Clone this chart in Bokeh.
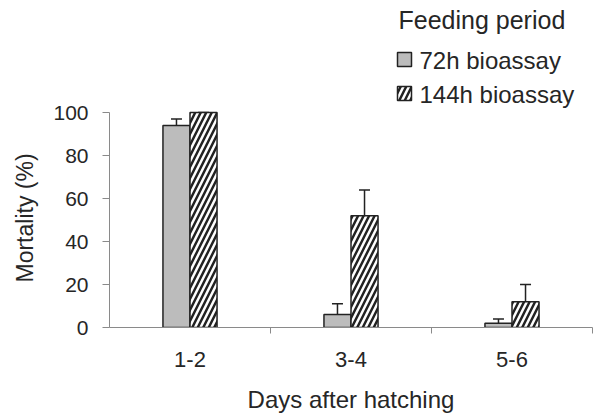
from bokeh.plotting import figure
from bokeh.models import (ColumnDataSource, Range1d, FixedTicker, Whisker, TeeHead,
                          Title, Label, BoxAnnotation)
from bokeh.transform import dodge
from bokeh.embed import file_html
from bokeh.resources import INLINE

categories = ["1-2", "3-4", "5-6"]
mort_72h = [94, 6, 2]
err_72h = [3, 5, 2]
mort_144h = [100, 52, 12]
err_144h = [0, 12, 8]
y_ticks = [0, 20, 40, 60, 80, 100]
series_names = ["72h bioassay", "144h bioassay"]
legend_title = "Feeding period"

FONT = "Liberation Sans"
TXT = "#262626"
AX = "#8a8a8a"
EDGE = "#222222"
GREY = "#bcbcbc"
BW = 0.168
Y_END = 151.2

xc = [i + 0.5 for i in range(len(categories))]
src72 = ColumnDataSource(dict(x=xc, top=mort_72h,
                              upper=[m + e for m, e in zip(mort_72h, err_72h)]))
src144 = ColumnDataSource(dict(x=xc, top=mort_144h,
                               upper=[m + e for m, e in zip(mort_144h, err_144h)]))

p = figure(width=594, height=417, output_backend="svg", toolbar_location=None,
           x_range=Range1d(0, len(categories)), y_range=Range1d(0, Y_END),
           min_border_left=109, min_border_right=2, min_border_bottom=90,
           min_border_top=2)
p.outline_line_color = None
p.grid.visible = False
p.background_fill_color = "white"

style72 = dict(fill_color=GREY, line_color=EDGE, line_width=1.5)
style144 = dict(fill_color="white", line_color=EDGE, line_width=1.5,
                hatch_pattern="/", hatch_color=EDGE, hatch_weight=2.5, hatch_scale=11)

p.vbar(x=dodge("x", -BW / 2, range=p.x_range), top="top", bottom=0, width=BW,
       source=src72, **style72)
p.vbar(x=dodge("x", BW / 2, range=p.x_range), top="top", bottom=0, width=BW,
       source=src144, **style144)

for src, off in ((src72, -BW / 2), (src144, BW / 2)):
    w = Whisker(source=src, base=dodge("x", off, range=p.x_range), upper="upper",
                lower="top", dimension="height",
                upper_head=TeeHead(size=11, line_color=EDGE, line_width=1.5),
                lower_head=None, line_color=EDGE, line_width=1.5)
    p.add_layout(w)

# axes
p.yaxis.ticker = FixedTicker(ticks=y_ticks)
p.yaxis.bounds = (0, 100)
p.yaxis.axis_line_color = AX
p.yaxis.major_tick_line_color = AX
p.yaxis.major_tick_in = 0
p.yaxis.major_tick_out = 7
p.yaxis.minor_tick_line_color = None
p.yaxis.major_label_text_font = FONT
p.yaxis.major_label_text_font_size = "21px"
p.yaxis.major_label_text_color = TXT
p.yaxis.major_label_standoff = 14

ylabel = Title(text="Mortality (%)", align="left", offset=45, vertical_align="top",
               text_font=FONT, text_font_size="23px", text_font_style="normal",
               text_color=TXT, standoff=22)
p.add_layout(ylabel, "left")

p.xaxis.ticker = FixedTicker(ticks=xc, minor_ticks=list(range(1, len(categories) + 1)))
p.xaxis.major_label_overrides = {x: c for x, c in zip(xc, categories)}
p.xaxis.axis_line_color = AX
p.xaxis.major_tick_line_color = None
p.xaxis.minor_tick_line_color = AX
p.xaxis.minor_tick_in = 0
p.xaxis.minor_tick_out = 6
p.xaxis.major_label_text_font = FONT
p.xaxis.major_label_text_font_size = "22px"
p.xaxis.major_label_text_color = TXT
p.xaxis.major_label_standoff = 18
p.xaxis.axis_label = "Days after hatching"
p.xaxis.axis_label_text_font = FONT
p.xaxis.axis_label_text_font_size = "24px"
p.xaxis.axis_label_text_font_style = "normal"
p.xaxis.axis_label_text_color = TXT
p.xaxis.axis_label_standoff = 16

# legend (texts in screen units from the frame's bottom-left; swatches in frame space)
FRAME_W, FRAME_H = 594 - 109 - 2, 417 - 2 - 90
sx = len(categories) / FRAME_W      # data units per pixel, x
sy = Y_END / FRAME_H                # data units per pixel, y
scr = dict(x_units="screen", y_units="screen")
p.add_layout(Label(x=289, y=308, text=legend_title, text_font=FONT,
                   text_font_size="25px", text_color=TXT,
                   text_baseline="alphabetic", **scr))
for k, (name, style) in enumerate(zip(series_names, (style72, style144))):
    top_px = 275 - 34 * k
    p.add_layout(BoxAnnotation(left=288 * sx, right=302 * sx,
                               top=top_px * sy, bottom=(top_px - 14) * sy,
                               fill_alpha=1, line_alpha=1, **style))
    p.add_layout(Label(x=310, y=top_px - 8, text=name, text_font=FONT,
                       text_font_size="24px", text_color=TXT,
                       text_baseline="alphabetic", **scr))

open("out.html", "w").write(file_html(p, INLINE))
